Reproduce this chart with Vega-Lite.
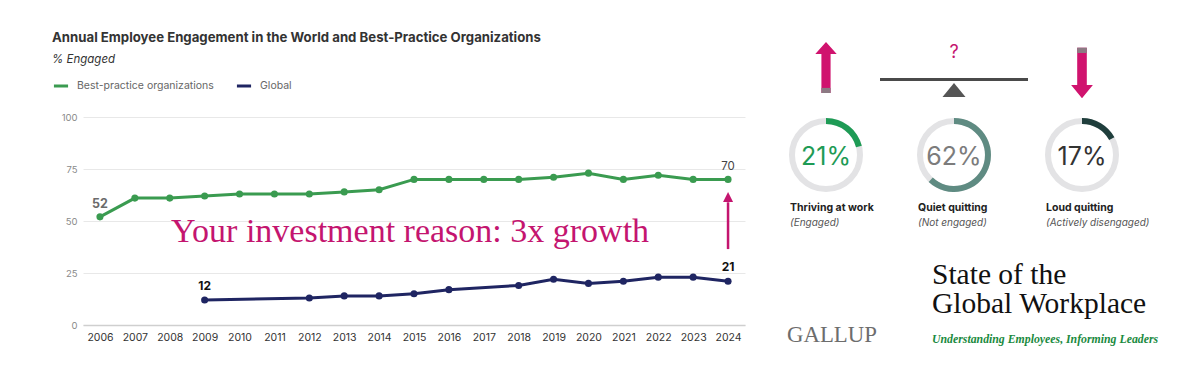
{
  "$schema": "https://vega.github.io/schema/vega-lite/v6.json",
  "width": 1200,
  "height": 382,
  "padding": 0,
  "autosize": {"type": "none"},
  "background": "white",
  "config": {
    "view": {"stroke": null},
    "font": "Inter",
    "legend": {
      "orient": "none", "legendX": 52, "legendY": 77, "direction": "horizontal",
      "symbolType": "stroke", "symbolStrokeWidth": 3, "symbolSize": 200,
      "labelFontSize": 10.5, "labelColor": "#666", "labelFont": "Inter",
      "columnPadding": 16, "labelOffset": 7
    }
  },
  "title": {
    "text": "Annual Employee Engagement in the World and Best-Practice Organizations",
    "subtitle": "% Engaged",
    "anchor": "start", "frame": "group", "dx": 52, "offset": -66,
    "font": "Inter", "fontSize": 13.2, "fontWeight": "bold", "color": "#333",
    "subtitleFont": "Inter", "subtitleFontStyle": "italic", "subtitleFontSize": 11.5,
    "subtitleColor": "#333", "subtitlePadding": 8
  },
  "datasets": {
    "engagement": [
      {"year": 2006, "series": "Best-practice organizations", "value": 52},
      {"year": 2007, "series": "Best-practice organizations", "value": 61},
      {"year": 2008, "series": "Best-practice organizations", "value": 61},
      {"year": 2009, "series": "Best-practice organizations", "value": 62},
      {"year": 2010, "series": "Best-practice organizations", "value": 63},
      {"year": 2011, "series": "Best-practice organizations", "value": 63},
      {"year": 2012, "series": "Best-practice organizations", "value": 63},
      {"year": 2013, "series": "Best-practice organizations", "value": 64},
      {"year": 2014, "series": "Best-practice organizations", "value": 65},
      {"year": 2015, "series": "Best-practice organizations", "value": 70},
      {"year": 2016, "series": "Best-practice organizations", "value": 70},
      {"year": 2017, "series": "Best-practice organizations", "value": 70},
      {"year": 2018, "series": "Best-practice organizations", "value": 70},
      {"year": 2019, "series": "Best-practice organizations", "value": 71},
      {"year": 2020, "series": "Best-practice organizations", "value": 73},
      {"year": 2021, "series": "Best-practice organizations", "value": 70},
      {"year": 2022, "series": "Best-practice organizations", "value": 72},
      {"year": 2023, "series": "Best-practice organizations", "value": 70},
      {"year": 2024, "series": "Best-practice organizations", "value": 70},
      {"year": 2009, "series": "Global", "value": 12},
      {"year": 2012, "series": "Global", "value": 13},
      {"year": 2013, "series": "Global", "value": 14},
      {"year": 2014, "series": "Global", "value": 14},
      {"year": 2015, "series": "Global", "value": 15},
      {"year": 2016, "series": "Global", "value": 17},
      {"year": 2018, "series": "Global", "value": 19},
      {"year": 2019, "series": "Global", "value": 22},
      {"year": 2020, "series": "Global", "value": 20},
      {"year": 2021, "series": "Global", "value": 21},
      {"year": 2022, "series": "Global", "value": 23},
      {"year": 2023, "series": "Global", "value": 23},
      {"year": 2024, "series": "Global", "value": 21}
    ],
    "outcomes": [
      {"category": "Thriving at work", "note": "(Engaged)", "share": 0.21, "trend": "up"},
      {"category": "Quiet quitting", "note": "(Not engaged)", "share": 0.62, "trend": "level"},
      {"category": "Loud quitting", "note": "(Actively disengaged)", "share": 0.17, "trend": "down"}
    ]
  },
  "layer": [
    {
      "data": {"name": "engagement"},
      "encoding": {
        "x": {
          "field": "year", "type": "ordinal",
          "scale": {"type": "point", "range": [83, 745], "padding": 0.486},
          "axis": {
            "title": null, "labelAngle": 0, "offset": -57, "ticks": false,
            "domain": true, "domainColor": "#cfcfcf", "domainWidth": 1.5,
            "labelFont": "Inter", "labelFontSize": 10.5, "labelColor": "#333", "labelPadding": 7
          }
        },
        "y": {
          "field": "value", "type": "quantitative",
          "scale": {"domain": [0, 100], "range": [325, 117]},
          "axis": {
            "title": null, "values": [0, 25, 50, 75, 100], "offset": -83,
            "grid": true, "gridColor": "#e8e8e8", "domain": false, "ticks": false,
            "labelFont": "Inter", "labelFontSize": 9.5, "labelColor": "#8a8a8a", "labelPadding": 6
          }
        }
      },
      "layer": [
        {
          "mark": {"type": "line", "strokeWidth": 3},
          "encoding": {
            "color": {
              "field": "series", "type": "nominal", "title": null,
              "scale": {"domain": ["Best-practice organizations", "Global"], "range": ["#3a9b50", "#1f2562"]}
            }
          }
        },
        {
          "mark": {"type": "point", "filled": true, "size": 50, "opacity": 1},
          "encoding": {
            "color": {
              "field": "series", "type": "nominal", "title": null,
              "scale": {"domain": ["Best-practice organizations", "Global"], "range": ["#3a9b50", "#1f2562"]}
            }
          }
        },
        {
          "transform": [{"filter": "datum.series === 'Best-practice organizations' && datum.year === 2006"}],
          "mark": {"type": "text", "dy": -13, "fontSize": 12.5, "fontWeight": "bold", "color": "#6b6b6b", "font": "Inter"},
          "encoding": {"text": {"field": "value", "type": "quantitative"}}
        },
        {
          "transform": [{"filter": "datum.series === 'Best-practice organizations' && datum.year === 2024"}],
          "mark": {"type": "text", "dy": -12, "fontSize": 11.5, "color": "#444", "font": "Inter"},
          "encoding": {"text": {"field": "value", "type": "quantitative"}}
        },
        {
          "transform": [{"filter": "datum.series === 'Global' && (datum.year === 2009 || datum.year === 2024)"}],
          "mark": {"type": "text", "dy": -14, "fontSize": 12, "fontWeight": "bold", "color": "#111", "font": "Inter"},
          "encoding": {"text": {"field": "value", "type": "quantitative"}}
        },
        {
          "data": {"values": [{"note": "Your investment reason: 3x growth", "at": 2015, "level": 40}]},
          "mark": {"type": "text", "font": "Liberation Serif", "fontSize": 34, "color": "#c4156f", "baseline": "alphabetic", "dx": -4},
          "encoding": {
            "x": {"field": "at", "type": "ordinal"},
            "y": {"field": "level", "type": "quantitative"},
            "text": {"field": "note", "type": "nominal"}
          }
        },
        {
          "data": {"values": [{"at": 2024, "from": 36.5, "to": 59}]},
          "mark": {"type": "rule", "strokeWidth": 2.5, "color": "#c4156f"},
          "encoding": {
            "x": {"field": "at", "type": "ordinal"},
            "y": {"field": "from", "type": "quantitative"},
            "y2": {"field": "to"}
          }
        },
        {
          "data": {"values": [{"at": 2024, "tip": 61.5}]},
          "mark": {"type": "point", "shape": "M0,-1L1,1L-1,1Z", "size": 100, "filled": true, "opacity": 1, "color": "#c4156f"},
          "encoding": {
            "x": {"field": "at", "type": "ordinal"},
            "y": {"field": "tip", "type": "quantitative"}
          }
        }
      ]
    },
    {
      "data": {"name": "outcomes"},
      "encoding": {
        "x": {
          "field": "category", "type": "nominal",
          "scale": {"type": "point", "domain": ["Thriving at work", "Quiet quitting", "Loud quitting"], "range": [826, 1082], "padding": 0},
          "axis": null
        }
      },
      "layer": [
        {
          "mark": {"type": "point", "shape": "circle", "filled": false, "stroke": "#e3e3e5", "strokeWidth": 6, "size": 4624, "opacity": 1},
          "encoding": {"y": {"value": 155}}
        },
        {
          "mark": {"type": "arc", "innerRadius": 31, "outerRadius": 37},
          "encoding": {
            "y": {"value": 155},
            "theta": {"field": "share", "type": "quantitative", "stack": null, "scale": {"domain": [0, 1], "range": [0, 6.2832]}},
            "color": {
              "field": "category", "type": "nominal", "legend": null,
              "scale": {"domain": ["Thriving at work", "Quiet quitting", "Loud quitting"], "range": ["#1e9b55", "#5f8b82", "#1f3e3c"]}
            }
          }
        },
        {
          "mark": {"type": "text", "font": "Inter", "fontSize": 25, "baseline": "alphabetic"},
          "encoding": {
            "y": {"value": 165},
            "text": {"field": "share", "type": "quantitative", "format": ".0%"},
            "fill": {
              "field": "category", "type": "nominal", "legend": null,
              "scale": {"domain": ["Thriving at work", "Quiet quitting", "Loud quitting"], "range": ["#1e9b55", "#7c7c7c", "#333333"]}
            }
          }
        },
        {
          "mark": {"type": "text", "font": "Inter", "fontSize": 10.5, "fontWeight": "bold", "color": "#222", "align": "left", "dx": -36, "baseline": "alphabetic"},
          "encoding": {"y": {"value": 211}, "text": {"field": "category"}}
        },
        {
          "mark": {"type": "text", "font": "Inter", "fontSize": 10, "fontStyle": "italic", "color": "#555", "align": "left", "dx": -36, "baseline": "alphabetic"},
          "encoding": {"y": {"value": 225.5}, "text": {"field": "note"}}
        },
        {
          "transform": [{"filter": "datum.trend === 'up'"}],
          "mark": {"type": "point", "shape": "M0,-1L0.42,-0.53L0.18,-0.53L0.18,1L-0.18,1L-0.18,-0.53L-0.42,-0.53Z", "filled": true, "opacity": 1, "size": 2600, "color": "#d0136e"},
          "encoding": {"y": {"value": 67.5}}
        },
        {
          "transform": [{"filter": "datum.trend === 'up'"}],
          "mark": {"type": "point", "shape": "M-0.18,0.8L0.18,0.8L0.18,1L-0.18,1Z", "filled": true, "opacity": 1, "size": 2600, "color": "#8c7a83"},
          "encoding": {"y": {"value": 67.5}}
        },
        {
          "transform": [{"filter": "datum.trend === 'down'"}],
          "mark": {"type": "point", "shape": "M0,1L0.43,0.47L0.19,0.47L0.19,-1L-0.19,-1L-0.19,0.47L-0.43,0.47Z", "filled": true, "opacity": 1, "size": 2560, "color": "#d0136e"},
          "encoding": {"y": {"value": 73}}
        },
        {
          "transform": [{"filter": "datum.trend === 'down'"}],
          "mark": {"type": "point", "shape": "M-0.19,-1L0.19,-1L0.19,-0.79L-0.19,-0.79Z", "filled": true, "opacity": 1, "size": 2560, "color": "#8c7a83"},
          "encoding": {"y": {"value": 73}}
        },
        {
          "transform": [{"filter": "datum.trend === 'level'"}],
          "mark": {"type": "point", "shape": "M-1,0L1,0", "filled": false, "size": 21904, "stroke": "#4a4a4a", "strokeWidth": 3, "opacity": 1},
          "encoding": {"y": {"value": 79.5}}
        },
        {
          "transform": [{"filter": "datum.trend === 'level'"}],
          "mark": {"type": "point", "shape": "M0,-0.6L1,0.6L-1,0.6Z", "filled": true, "size": 529, "color": "#555", "opacity": 1},
          "encoding": {"y": {"value": 90}}
        },
        {
          "transform": [{"filter": "datum.trend === 'level'"}],
          "mark": {"type": "text", "text": "?", "font": "Inter", "fontSize": 18, "color": "#c4156f", "baseline": "alphabetic"},
          "encoding": {"y": {"value": 58}}
        },
        {
          "data": {"values": [{"line": "State of the"}]},
          "mark": {"type": "text", "font": "Liberation Serif", "fontSize": 29.5, "color": "#111", "align": "left", "baseline": "alphabetic", "dx": -22},
          "encoding": {"x": {"datum": "Quiet quitting", "type": "nominal"}, "y": {"value": 284}, "text": {"field": "line"}}
        },
        {
          "data": {"values": [{"line": "Global Workplace"}]},
          "mark": {"type": "text", "font": "Liberation Serif", "fontSize": 29.5, "color": "#111", "align": "left", "baseline": "alphabetic", "dx": -22},
          "encoding": {"x": {"datum": "Quiet quitting", "type": "nominal"}, "y": {"value": 313}, "text": {"field": "line"}}
        },
        {
          "data": {"values": [{"line": "Understanding Employees, Informing Leaders"}]},
          "mark": {"type": "text", "font": "Liberation Serif", "fontSize": 11.8, "fontStyle": "italic", "fontWeight": "bold", "color": "#1a8a3e", "align": "left", "baseline": "alphabetic", "dx": -22},
          "encoding": {"x": {"datum": "Quiet quitting", "type": "nominal"}, "y": {"value": 343}, "text": {"field": "line"}}
        },
        {
          "data": {"values": [{"line": "GALLUP"}]},
          "mark": {"type": "text", "font": "Liberation Serif", "fontSize": 22.8, "color": "#6d6d6d", "align": "left", "baseline": "alphabetic", "dx": -39},
          "encoding": {"x": {"datum": "Thriving at work", "type": "nominal"}, "y": {"value": 342}, "text": {"field": "line"}}
        }
      ]
    }
  ],
  "resolve": {"scale": {"x": "independent", "y": "independent", "color": "independent"}}
}
